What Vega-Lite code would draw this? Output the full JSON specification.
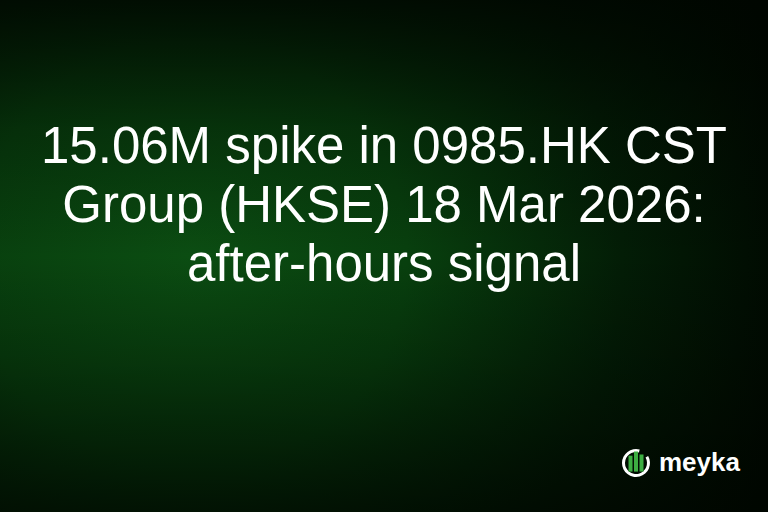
{
  "$schema": "https://vega.github.io/schema/vega-lite/v6.json",
  "width": 768,
  "height": 512,
  "padding": 0,
  "autosize": {"type": "fit", "contains": "padding"},
  "background": "#000800",
  "config": {"view": {"stroke": null}},
  "encoding": {
    "x": {"type": "quantitative", "scale": {"domain": [0, 768]}, "axis": null},
    "y": {"type": "quantitative", "scale": {"domain": [-1.763, 6.915], "reverse": true}, "axis": null}
  },
  "layer": [
    {
      "data": {"values": [{"bg": 1}]},
      "layer": [
        {
          "mark": {
            "type": "rect",
            "color": {
              "gradient": "radial",
              "x1": 0.25, "y1": 0.5, "r1": 0,
              "x2": 0.25, "y2": 0.5, "r2": 0.8,
              "stops": [
                {"offset": 0, "color": "#0b4d12"},
                {"offset": 0.35, "color": "#08400e"},
                {"offset": 0.7, "color": "#031d06"},
                {"offset": 1, "color": "#000700"}
              ]
            }
          },
          "encoding": {
            "x": {"datum": 0},
            "x2": {"datum": 768},
            "y": {"datum": -1.763},
            "y2": {"datum": 6.915}
          }
        },
        {
          "mark": {
            "type": "rect",
            "color": {
              "gradient": "linear",
              "x1": 0, "y1": 0, "x2": 0, "y2": 1,
              "stops": [
                {"offset": 0, "color": "rgba(0,6,0,0.85)"},
                {"offset": 0.25, "color": "rgba(0,6,0,0.3)"},
                {"offset": 0.5, "color": "rgba(0,6,0,0)"},
                {"offset": 0.7, "color": "rgba(0,6,0,0.25)"},
                {"offset": 1, "color": "rgba(0,6,0,0.75)"}
              ]
            }
          },
          "encoding": {
            "x": {"datum": 0},
            "x2": {"datum": 768},
            "y": {"datum": -1.763},
            "y2": {"datum": 6.915}
          }
        }
      ]
    },
    {
      "data": {"values": [
        {"row": 1, "text": "15.06M spike in 0985.HK CST"},
        {"row": 2, "text": "Group (HKSE) 18 Mar 2026:"},
        {"row": 3, "text": "after-hours signal"}
      ]},
      "mark": {"type": "text", "font": "Liberation Sans", "fontSize": 51, "baseline": "alphabetic", "align": "center", "color": "#ffffff"},
      "encoding": {"x": {"datum": 384}, "y": {"field": "row"}, "text": {"field": "text"}}
    },
    {
      "data": {"values": [{"label": "meyka"}]},
      "mark": {"type": "text", "font": "Liberation Sans", "fontWeight": "bold", "fontSize": 26, "baseline": "alphabetic", "align": "left", "color": "#ffffff"},
      "encoding": {"x": {"datum": 659}, "y": {"datum": 6.22}, "text": {"field": "label"}}
    },
    {
      "data": {"values": [{"icon": "ring"}]},
      "mark": {"type": "arc", "color": "#ffffff", "radius": 14, "radius2": 11, "theta": 1.05, "theta2": 6.55},
      "encoding": {"x": {"datum": 636}, "y": {"datum": 6.085}}
    },
    {
      "data": {"values": [
        {"bar": "a", "x0": 628.5, "x1": 632.5, "top": 5.96},
        {"bar": "b", "x0": 634, "x1": 638, "top": 5.89},
        {"bar": "c", "x0": 639.5, "x1": 643.5, "top": 5.94}
      ]},
      "mark": {"type": "rect", "color": "#3dae42"},
      "encoding": {
        "x": {"field": "x0"},
        "x2": {"field": "x1"},
        "y": {"field": "top"},
        "y2": {"datum": 6.23}
      }
    }
  ]
}
